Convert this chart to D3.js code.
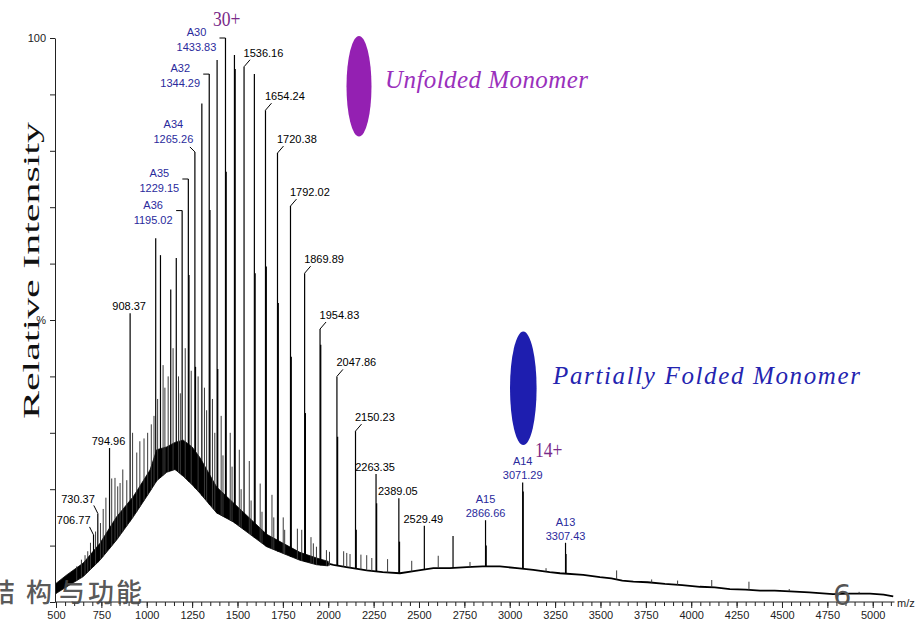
<!DOCTYPE html>
<html><head><meta charset="utf-8">
<script src="https://cdn.jsdelivr.net/npm/d3@7"></script>
<style>body{margin:0;background:#fff}svg{display:block}</style>
</head><body><svg id="c" width="921" height="620"></svg>
<script>
// ---------------- data ----------------
const xMajorTicks = [500,750,1000,1250,1500,1750,2000,2250,2500,2750,3000,3250,3500,3750,4000,4250,4500,4750,5000];
const yTickValues = [0,10,20,30,40,50,60,70,80,90,100];
const yTickText = {100:"100", 50:"%"};

// charge-state and labelled peaks: [m/z, relative intensity %]
const mainPeaks = [
 [706.77,11.9],[730.37,15.7],[794.96,27.3],[908.37,51.2],
 [1049.4,64.5],[1075.6,61.5],[1132.2,55.4],[1162.7,61.0],
 [1195.02,69.4],[1229.15,75.0],[1265.26,79.8],[1303.6,88.4],
 [1344.29,93.6],[1387.6,96.1],[1433.83,100],[1483.2,97.0],
 [1536.16,94.9],[1593.0,93.6],[1654.24,87.2],[1720.38,79.6],
 [1792.02,70.2],[1869.89,58.3],[1954.83,48.4],[2047.86,40.0],
 [2150.23,30.3],[2263.35,22.7],[2389.05,18.4],[2529.49,13.5],
 [2687.6,11.7],[2866.66,14.5],[3071.29,21.2],[3307.43,10.5]
];
// shoulder / adduct peaks beside the main ones
const shoulderPeaks = [
 [1232.5,58],[1268.5,41.7],[1348,69.5],[1391,41.3],[1437.5,76.3],[1487,94.5],
 [1597,58.3],[1658.5,59.5],[1724.5,53],[1796,43.5],[1874,33.5],[1958.5,45.6],
 [2051.5,29.3],[2154,12.8],[2266.5,17.5],[2392.5,10.7],[2870,10.0],[3074,19.6],[3310,8.5]
];
// small noise spikes and bumps
const minorPeaks = [
 [614,6.3],[640,7.5],[660,8.3],[675,9.0],[690,10.5],[718,12.5],[745,14.0],[760,16.5],[775,18.5],
 [807,21.9],[825,22.0],[840,20.5],[853,21.1],[868,23.5],[890,21.6],[922,30.0],[945,26.5],[962,28.5],
 [985,29.0],[1005,30.0],[1025,31.5],[1040,33.0],[1060,36.0],[1090,42.0],[1100,38.0],[1118,40.0],
 [1145,45.0],[1175,40.0],[1185,37.0],[1212,45.0],[1245,41.0],[1283,40.0],[1318,38.0],[1330,34.0],
 [1362,36.0],[1375,30.0],[1410,33.0],[1420,26.0],[1460,30.0],[1470,24.0],[1510,27.0],[1520,20.0],
 [1565,25.0],[1575,18.0],[1625,21.0],[1635,16.0],[1690,19.0],[1700,15.0],[1752,15.0],[1760,12.8],
 [1830,13.0],[1854,12.8],[1905,11.5],[1918,10.4],[1935,9.8],[1990,9.2],[2007,8.9],[2085,9.0],
 [2102,8.7],[2120,8.5],[2180,8.4],[2212,8.3],[2240,7.8],[2327,7.6],[2460,7.3],[2606,8.2],[2781,7.1],
 [3200,6.0],[3589,5.6],[3782,4.0],[3925,3.8],[4113,3.9],[4318,3.6],[4540,2.3],[4925,1.8]
];
// dense noise hump: [m/z, lower edge %, upper edge %]
const noiseBand = [
 [500,1.5,3.3],[559,2.7,4.8],[650,4.5,6.9],[742,7.4,10.4],[834,11.0,15.1],[926,15.1,18.7],
 [1018,19.6,23.4],[1055,21.5,27.0],[1110,23.0,27.5],[1156,23.5,28.3],[1201,22.3,28.7],
 [1250,20.8,27.5],[1293,19.3,25.6],[1385,15.8,20.4],[1477,14.2,17.6],[1569,12.0,14.8],
 [1661,9.8,12.0],[1752,8.6,10.4],[1844,7.4,8.8],[1936,6.6,7.8],[2000,6.4,7.2]
];
// baseline of the high-m/z tail: [m/z, %]
const tailBaseline = [
 [2000,6.8],[2028,6.6],[2100,6.2],[2212,5.6],[2300,5.3],[2395,5.1],[2480,5.5],[2579,6.0],
 [2670,6.0],[2763,6.2],[2850,6.3],[2946,6.3],[3040,6.0],[3130,5.7],[3220,5.3],[3277,5.1],
 [3405,4.8],[3497,4.4],[3560,4.2],[3620,3.8],[3681,3.6],[3760,3.5],[3855,3.2],[3950,3.0],
 [4048,2.7],[4130,2.6],[4213,2.3],[4300,2.2],[4379,2.0],[4460,2.0],[4544,1.9],[4650,1.7],
 [4781,1.4],[4874,1.5],[4985,1.5],[5060,1.3],[5113,1.0]
];
// peak annotations
const peakLabels = [
 {mz:706.77, style:"leftLeader"},
 {mz:730.37, style:"leftLeader"},
 {mz:794.96, style:"center"},
 {mz:908.37, style:"center"},
 {mz:1195.02, name:"A36", style:"bracket"},
 {mz:1229.15, name:"A35", style:"bracket"},
 {mz:1265.26, name:"A34", style:"diag"},
 {mz:1344.29, name:"A32", style:"bracket"},
 {mz:1433.83, name:"A30", style:"bracket"},
 {mz:1536.16, style:"rightLeader"},
 {mz:1654.24, style:"rightLeader"},
 {mz:1720.38, style:"rightLeader"},
 {mz:1792.02, style:"rightLeader"},
 {mz:1869.89, style:"rightLeader"},
 {mz:1954.83, style:"rightLeader"},
 {mz:2047.86, style:"rightLeader"},
 {mz:2150.23, style:"rightLeader"},
 {mz:2263.35, style:"center"},
 {mz:2389.05, style:"center"},
 {mz:2529.49, style:"center"},
 {mz:2866.66, name:"A15", style:"blueCenter"},
 {mz:3071.29, name:"A14", style:"blueCenter"},
 {mz:3307.43, name:"A13", style:"blueCenter"}
];
const chargeLabels = [["30+", 213, 26], ["14+", 535, 456.5]];

// ---------------- drawing ----------------
const svg = d3.select("#c");
const x = d3.scaleLinear().domain([500, 5120]).range([56, 894.5]);
const y = d3.scaleLinear().domain([0, 100]).range([602, 38]);
const sans = "'Liberation Sans', Arial, sans-serif";
const serif = "'Liberation Serif', 'Times New Roman', serif";
const BLUE = "#2a2a9c";

// baseline (foot of every peak) as a polylinear scale over the read envelope
const baseData = noiseBand.map(d => [d[0], d[1]]).concat(tailBaseline.slice(1));
const base = d3.scaleLinear().domain(baseData.map(d => d[0])).range(baseData.map(d => d[1])).clamp(true);

// noise hump
svg.append("path").datum(noiseBand)
  .attr("d", d3.area().x(d => x(d[0])).y0(d => y(d[1])).y1(d => y(d[2])))
  .attr("fill", "#000").attr("stroke", "#000").attr("stroke-width", 0.8);

// tail
svg.append("path").datum(tailBaseline)
  .attr("d", d3.line().x(d => x(d[0])).y(d => y(d[1])))
  .attr("fill", "none").attr("stroke", "#000").attr("stroke-width", 1.8);

function sticks(data, color, w) {
  svg.append("g").selectAll("line").data(data).join("line")
    .attr("x1", d => x(d[0])).attr("x2", d => x(d[0]))
    .attr("y1", d => y(base(d[0]))).attr("y2", d => y(d[1]))
    .attr("stroke", color).attr("stroke-width", w);
}
sticks(minorPeaks, "#3a3a3a", 1);
sticks(shoulderPeaks, "#000", 1.3);
sticks(mainPeaks, "#000", 1.2);

// axes
const yAxis = svg.append("g").attr("transform", "translate(55,0)")
  .call(d3.axisLeft(y).tickValues(yTickValues).tickSize(5).tickSizeOuter(0)
        .tickFormat(d => yTickText[d] || ""));
yAxis.selectAll("text").attr("font-family", sans).attr("font-size", 11).attr("fill", "#222").attr("dx", "-1");
yAxis.selectAll("line,path").attr("stroke", "#222");

const minorTicks = d3.range(500, 5101, 50);
const xAxis = svg.append("g").attr("transform", "translate(0,602)")
  .call(d3.axisBottom(x).tickValues(minorTicks).tickSize(4).tickSizeOuter(0).tickFormat(""));
xAxis.select(".domain").attr("d", `M55,0H${x(5120)}`);
xAxis.selectAll("line,path").attr("stroke", "#222");
const xAxisMajor = svg.append("g").attr("transform", "translate(0,602)")
  .call(d3.axisBottom(x).tickValues(xMajorTicks).tickSize(6).tickPadding(3).tickFormat(d3.format("d")));
xAxisMajor.select(".domain").remove();
xAxisMajor.selectAll("line").attr("stroke", "#222");
xAxisMajor.selectAll("text").attr("font-family", sans).attr("font-size", 11).attr("fill", "#222");
svg.append("text").attr("x", 897).attr("y", 607).attr("font-family", sans).attr("font-size", 11)
  .attr("fill", "#222").text("m/z");

// y title
svg.append("text").attr("transform", "translate(39,419) rotate(-90)")
  .attr("font-family", serif).attr("font-size", 24).attr("fill", "#111")
  .attr("textLength", 297).attr("lengthAdjust", "spacingAndGlyphs").text("Relative Intensity");

// peak labels
const peakMap = new Map(mainPeaks.map(d => [d[0], d[1]]));
const lg = svg.append("g").attr("font-family", sans).attr("font-size", 11);
peakLabels.forEach(p => {
  const xp = x(p.mz), yt = y(peakMap.get(p.mz));
  const val = p.mz.toFixed(2);
  const line = (x1, y1, x2, y2) => lg.append("line").attr("x1", x1).attr("y1", y1)
      .attr("x2", x2).attr("y2", y2).attr("stroke", "#000").attr("stroke-width", 1);
  if (p.style === "rightLeader") {
    line(xp, yt, xp + 6, yt - 7);
    lg.append("text").attr("x", xp - 0.5).attr("y", yt - 10).attr("fill", "#000").text(val);
  } else if (p.style === "leftLeader") {
    line(xp, yt, xp - 4, yt - 8);
    lg.append("text").attr("x", xp - 3).attr("y", yt - 10.5).attr("text-anchor", "end").attr("fill", "#000").text(val);
  } else if (p.style === "center") {
    lg.append("text").attr("x", xp - 1).attr("y", yt - 3).attr("text-anchor", "middle").attr("fill", "#000").text(val);
  } else if (p.style === "bracket") {
    line(xp - 6, yt, xp, yt);
    lg.append("text").attr("x", xp - 29).attr("y", yt - 2).attr("text-anchor", "middle").attr("fill", BLUE).text(p.name);
    lg.append("text").attr("x", xp - 29).attr("y", yt + 13).attr("text-anchor", "middle").attr("fill", BLUE).text(val);
  } else if (p.style === "diag") {
    line(xp - 5, yt - 5, xp, yt);
    lg.append("text").attr("x", xp - 21.5).attr("y", yt - 23.5).attr("text-anchor", "middle").attr("fill", BLUE).text(p.name);
    lg.append("text").attr("x", xp - 21.5).attr("y", yt - 8.5).attr("text-anchor", "middle").attr("fill", BLUE).text(val);
  } else if (p.style === "blueCenter") {
    lg.append("text").attr("x", xp).attr("y", yt - 17).attr("text-anchor", "middle").attr("fill", BLUE).text(p.name);
    lg.append("text").attr("x", xp).attr("y", yt - 3).attr("text-anchor", "middle").attr("fill", BLUE).text(val);
  }
});

// charge state labels
chargeLabels.forEach(([t, cx, cy]) => {
  svg.append("text").attr("x", cx).attr("y", cy).attr("font-family", serif).attr("font-size", 20)
    .attr("textLength", 27.5).attr("lengthAdjust", "spacingAndGlyphs").attr("fill", "#7a2a88").text(t);
});

// species legend ellipses + text
svg.append("ellipse").attr("cx", 359).attr("cy", 86.3).attr("rx", 12.5).attr("ry", 50.3).attr("fill", "#9420b2");
svg.append("text").attr("x", 385).attr("y", 88).attr("font-family", serif).attr("font-style", "italic")
  .attr("font-size", 25).attr("textLength", 203).attr("lengthAdjust", "spacing").attr("fill", "#9a30bc")
  .text("Unfolded Monomer");
svg.append("ellipse").attr("cx", 523.3).attr("cy", 388.3).attr("rx", 13.3).attr("ry", 56.7).attr("fill", "#1e1eaf");
svg.append("text").attr("x", 553).attr("y", 383.5).attr("font-family", serif).attr("font-style", "italic")
  .attr("font-size", 25).attr("textLength", 307).attr("lengthAdjust", "spacing").attr("fill", "#2424b0")
  .text("Partially Folded Monomer");

// watermark
const wm = svg.append("text").attr("y", 602).attr("font-family", "'Noto Sans CJK SC', sans-serif")
  .attr("font-size", 26).attr("font-weight", 500).attr("fill", "#4a4a4a").attr("fill-opacity", 0.92);
[["结",-11],["构",26],["与",59],["功",88],["能",116]].forEach(([c, px]) =>
  wm.append("tspan").attr("x", px).text(c));
svg.append("text").attr("x", 833).attr("y", 605).attr("font-family", "'DejaVu Sans', sans-serif")
  .attr("font-size", 29).attr("fill", "#555").text("6");
</script></body></html>
